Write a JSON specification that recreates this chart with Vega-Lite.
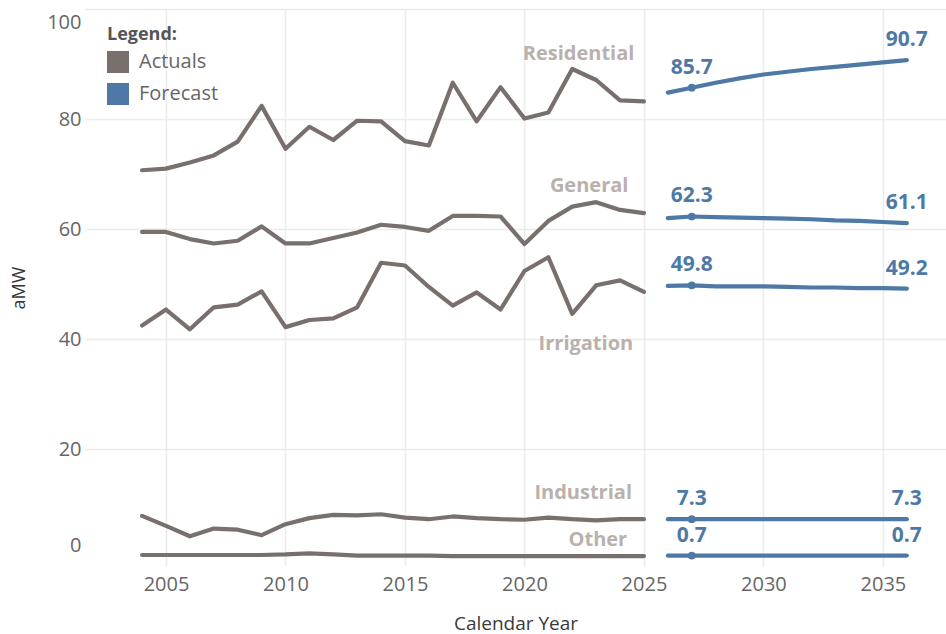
{
  "$schema": "https://vega.github.io/schema/vega-lite/v6.json",
  "autosize": {"type": "none"},
  "width": 861,
  "height": 557,
  "padding": {"left": 85, "top": 9, "right": 0, "bottom": 68},
  "background": "white",
  "config": {
    "view": {"stroke": null},
    "font": "Open Sans",
    "axis": {"labelFont": "Open Sans", "titleFont": "Open Sans"}
  },
  "datasets": {
    "lines": [
      {"series": "Residential", "type": "Actuals", "year": 2004, "value": 70.7},
      {"series": "Residential", "type": "Actuals", "year": 2005, "value": 71.0},
      {"series": "Residential", "type": "Actuals", "year": 2006, "value": 72.1},
      {"series": "Residential", "type": "Actuals", "year": 2007, "value": 73.4},
      {"series": "Residential", "type": "Actuals", "year": 2008, "value": 75.9},
      {"series": "Residential", "type": "Actuals", "year": 2009, "value": 82.4},
      {"series": "Residential", "type": "Actuals", "year": 2010, "value": 74.6},
      {"series": "Residential", "type": "Actuals", "year": 2011, "value": 78.6},
      {"series": "Residential", "type": "Actuals", "year": 2012, "value": 76.2},
      {"series": "Residential", "type": "Actuals", "year": 2013, "value": 79.7},
      {"series": "Residential", "type": "Actuals", "year": 2014, "value": 79.6},
      {"series": "Residential", "type": "Actuals", "year": 2015, "value": 76.0},
      {"series": "Residential", "type": "Actuals", "year": 2016, "value": 75.2},
      {"series": "Residential", "type": "Actuals", "year": 2017, "value": 86.6},
      {"series": "Residential", "type": "Actuals", "year": 2018, "value": 79.6},
      {"series": "Residential", "type": "Actuals", "year": 2019, "value": 85.8},
      {"series": "Residential", "type": "Actuals", "year": 2020, "value": 80.1},
      {"series": "Residential", "type": "Actuals", "year": 2021, "value": 81.2},
      {"series": "Residential", "type": "Actuals", "year": 2022, "value": 89.1},
      {"series": "Residential", "type": "Actuals", "year": 2023, "value": 87.1},
      {"series": "Residential", "type": "Actuals", "year": 2024, "value": 83.4},
      {"series": "Residential", "type": "Actuals", "year": 2025, "value": 83.2},
      {"series": "General", "type": "Actuals", "year": 2004, "value": 59.5},
      {"series": "General", "type": "Actuals", "year": 2005, "value": 59.5},
      {"series": "General", "type": "Actuals", "year": 2006, "value": 58.2},
      {"series": "General", "type": "Actuals", "year": 2007, "value": 57.4},
      {"series": "General", "type": "Actuals", "year": 2008, "value": 57.9},
      {"series": "General", "type": "Actuals", "year": 2009, "value": 60.5},
      {"series": "General", "type": "Actuals", "year": 2010, "value": 57.4},
      {"series": "General", "type": "Actuals", "year": 2011, "value": 57.4},
      {"series": "General", "type": "Actuals", "year": 2012, "value": 58.4},
      {"series": "General", "type": "Actuals", "year": 2013, "value": 59.4},
      {"series": "General", "type": "Actuals", "year": 2014, "value": 60.8},
      {"series": "General", "type": "Actuals", "year": 2015, "value": 60.4},
      {"series": "General", "type": "Actuals", "year": 2016, "value": 59.7},
      {"series": "General", "type": "Actuals", "year": 2017, "value": 62.4},
      {"series": "General", "type": "Actuals", "year": 2018, "value": 62.4},
      {"series": "General", "type": "Actuals", "year": 2019, "value": 62.3},
      {"series": "General", "type": "Actuals", "year": 2020, "value": 57.3},
      {"series": "General", "type": "Actuals", "year": 2021, "value": 61.5},
      {"series": "General", "type": "Actuals", "year": 2022, "value": 64.1},
      {"series": "General", "type": "Actuals", "year": 2023, "value": 64.9},
      {"series": "General", "type": "Actuals", "year": 2024, "value": 63.5},
      {"series": "General", "type": "Actuals", "year": 2025, "value": 62.9},
      {"series": "Irrigation", "type": "Actuals", "year": 2004, "value": 42.5},
      {"series": "Irrigation", "type": "Actuals", "year": 2005, "value": 45.4},
      {"series": "Irrigation", "type": "Actuals", "year": 2006, "value": 41.8},
      {"series": "Irrigation", "type": "Actuals", "year": 2007, "value": 45.8},
      {"series": "Irrigation", "type": "Actuals", "year": 2008, "value": 46.3},
      {"series": "Irrigation", "type": "Actuals", "year": 2009, "value": 48.7},
      {"series": "Irrigation", "type": "Actuals", "year": 2010, "value": 42.2},
      {"series": "Irrigation", "type": "Actuals", "year": 2011, "value": 43.5},
      {"series": "Irrigation", "type": "Actuals", "year": 2012, "value": 43.8},
      {"series": "Irrigation", "type": "Actuals", "year": 2013, "value": 45.8},
      {"series": "Irrigation", "type": "Actuals", "year": 2014, "value": 53.9},
      {"series": "Irrigation", "type": "Actuals", "year": 2015, "value": 53.4},
      {"series": "Irrigation", "type": "Actuals", "year": 2016, "value": 49.5},
      {"series": "Irrigation", "type": "Actuals", "year": 2017, "value": 46.1},
      {"series": "Irrigation", "type": "Actuals", "year": 2018, "value": 48.5},
      {"series": "Irrigation", "type": "Actuals", "year": 2019, "value": 45.4},
      {"series": "Irrigation", "type": "Actuals", "year": 2020, "value": 52.4},
      {"series": "Irrigation", "type": "Actuals", "year": 2021, "value": 54.9},
      {"series": "Irrigation", "type": "Actuals", "year": 2022, "value": 44.6},
      {"series": "Irrigation", "type": "Actuals", "year": 2023, "value": 49.8},
      {"series": "Irrigation", "type": "Actuals", "year": 2024, "value": 50.7},
      {"series": "Irrigation", "type": "Actuals", "year": 2025, "value": 48.6},
      {"series": "Industrial", "type": "Actuals", "year": 2004, "value": 7.9},
      {"series": "Industrial", "type": "Actuals", "year": 2005, "value": 6.1},
      {"series": "Industrial", "type": "Actuals", "year": 2006, "value": 4.2},
      {"series": "Industrial", "type": "Actuals", "year": 2007, "value": 5.6},
      {"series": "Industrial", "type": "Actuals", "year": 2008, "value": 5.4},
      {"series": "Industrial", "type": "Actuals", "year": 2009, "value": 4.4},
      {"series": "Industrial", "type": "Actuals", "year": 2010, "value": 6.4},
      {"series": "Industrial", "type": "Actuals", "year": 2011, "value": 7.5},
      {"series": "Industrial", "type": "Actuals", "year": 2012, "value": 8.1},
      {"series": "Industrial", "type": "Actuals", "year": 2013, "value": 8.0},
      {"series": "Industrial", "type": "Actuals", "year": 2014, "value": 8.2},
      {"series": "Industrial", "type": "Actuals", "year": 2015, "value": 7.6},
      {"series": "Industrial", "type": "Actuals", "year": 2016, "value": 7.3},
      {"series": "Industrial", "type": "Actuals", "year": 2017, "value": 7.8},
      {"series": "Industrial", "type": "Actuals", "year": 2018, "value": 7.5},
      {"series": "Industrial", "type": "Actuals", "year": 2019, "value": 7.3},
      {"series": "Industrial", "type": "Actuals", "year": 2020, "value": 7.2},
      {"series": "Industrial", "type": "Actuals", "year": 2021, "value": 7.6},
      {"series": "Industrial", "type": "Actuals", "year": 2022, "value": 7.3},
      {"series": "Industrial", "type": "Actuals", "year": 2023, "value": 7.1},
      {"series": "Industrial", "type": "Actuals", "year": 2024, "value": 7.3},
      {"series": "Industrial", "type": "Actuals", "year": 2025, "value": 7.3},
      {"series": "Other", "type": "Actuals", "year": 2004, "value": 0.8},
      {"series": "Other", "type": "Actuals", "year": 2005, "value": 0.8},
      {"series": "Other", "type": "Actuals", "year": 2006, "value": 0.8},
      {"series": "Other", "type": "Actuals", "year": 2007, "value": 0.8},
      {"series": "Other", "type": "Actuals", "year": 2008, "value": 0.8},
      {"series": "Other", "type": "Actuals", "year": 2009, "value": 0.8},
      {"series": "Other", "type": "Actuals", "year": 2010, "value": 0.9},
      {"series": "Other", "type": "Actuals", "year": 2011, "value": 1.1},
      {"series": "Other", "type": "Actuals", "year": 2012, "value": 0.9},
      {"series": "Other", "type": "Actuals", "year": 2013, "value": 0.7},
      {"series": "Other", "type": "Actuals", "year": 2014, "value": 0.7},
      {"series": "Other", "type": "Actuals", "year": 2015, "value": 0.7},
      {"series": "Other", "type": "Actuals", "year": 2016, "value": 0.7},
      {"series": "Other", "type": "Actuals", "year": 2017, "value": 0.6},
      {"series": "Other", "type": "Actuals", "year": 2018, "value": 0.6},
      {"series": "Other", "type": "Actuals", "year": 2019, "value": 0.6},
      {"series": "Other", "type": "Actuals", "year": 2020, "value": 0.6},
      {"series": "Other", "type": "Actuals", "year": 2021, "value": 0.6},
      {"series": "Other", "type": "Actuals", "year": 2022, "value": 0.6},
      {"series": "Other", "type": "Actuals", "year": 2023, "value": 0.6},
      {"series": "Other", "type": "Actuals", "year": 2024, "value": 0.6},
      {"series": "Other", "type": "Actuals", "year": 2025, "value": 0.6},
      {"series": "Residential", "type": "Forecast", "year": 2026, "value": 84.8},
      {"series": "Residential", "type": "Forecast", "year": 2027, "value": 85.7},
      {"series": "Residential", "type": "Forecast", "year": 2028, "value": 86.6},
      {"series": "Residential", "type": "Forecast", "year": 2029, "value": 87.4},
      {"series": "Residential", "type": "Forecast", "year": 2030, "value": 88.1},
      {"series": "Residential", "type": "Forecast", "year": 2031, "value": 88.6},
      {"series": "Residential", "type": "Forecast", "year": 2032, "value": 89.1},
      {"series": "Residential", "type": "Forecast", "year": 2033, "value": 89.5},
      {"series": "Residential", "type": "Forecast", "year": 2034, "value": 89.9},
      {"series": "Residential", "type": "Forecast", "year": 2035, "value": 90.3},
      {"series": "Residential", "type": "Forecast", "year": 2036, "value": 90.7},
      {"series": "General", "type": "Forecast", "year": 2026, "value": 62.0},
      {"series": "General", "type": "Forecast", "year": 2027, "value": 62.3},
      {"series": "General", "type": "Forecast", "year": 2028, "value": 62.2},
      {"series": "General", "type": "Forecast", "year": 2029, "value": 62.1},
      {"series": "General", "type": "Forecast", "year": 2030, "value": 62.0},
      {"series": "General", "type": "Forecast", "year": 2031, "value": 61.9},
      {"series": "General", "type": "Forecast", "year": 2032, "value": 61.8},
      {"series": "General", "type": "Forecast", "year": 2033, "value": 61.6},
      {"series": "General", "type": "Forecast", "year": 2034, "value": 61.5},
      {"series": "General", "type": "Forecast", "year": 2035, "value": 61.3},
      {"series": "General", "type": "Forecast", "year": 2036, "value": 61.1},
      {"series": "Irrigation", "type": "Forecast", "year": 2026, "value": 49.7},
      {"series": "Irrigation", "type": "Forecast", "year": 2027, "value": 49.8},
      {"series": "Irrigation", "type": "Forecast", "year": 2028, "value": 49.6},
      {"series": "Irrigation", "type": "Forecast", "year": 2029, "value": 49.6},
      {"series": "Irrigation", "type": "Forecast", "year": 2030, "value": 49.6},
      {"series": "Irrigation", "type": "Forecast", "year": 2031, "value": 49.5},
      {"series": "Irrigation", "type": "Forecast", "year": 2032, "value": 49.4},
      {"series": "Irrigation", "type": "Forecast", "year": 2033, "value": 49.4},
      {"series": "Irrigation", "type": "Forecast", "year": 2034, "value": 49.3},
      {"series": "Irrigation", "type": "Forecast", "year": 2035, "value": 49.3},
      {"series": "Irrigation", "type": "Forecast", "year": 2036, "value": 49.2},
      {"series": "Industrial", "type": "Forecast", "year": 2026, "value": 7.3},
      {"series": "Industrial", "type": "Forecast", "year": 2027, "value": 7.3},
      {"series": "Industrial", "type": "Forecast", "year": 2028, "value": 7.3},
      {"series": "Industrial", "type": "Forecast", "year": 2029, "value": 7.3},
      {"series": "Industrial", "type": "Forecast", "year": 2030, "value": 7.3},
      {"series": "Industrial", "type": "Forecast", "year": 2031, "value": 7.3},
      {"series": "Industrial", "type": "Forecast", "year": 2032, "value": 7.3},
      {"series": "Industrial", "type": "Forecast", "year": 2033, "value": 7.3},
      {"series": "Industrial", "type": "Forecast", "year": 2034, "value": 7.3},
      {"series": "Industrial", "type": "Forecast", "year": 2035, "value": 7.3},
      {"series": "Industrial", "type": "Forecast", "year": 2036, "value": 7.3},
      {"series": "Other", "type": "Forecast", "year": 2026, "value": 0.7},
      {"series": "Other", "type": "Forecast", "year": 2027, "value": 0.7},
      {"series": "Other", "type": "Forecast", "year": 2028, "value": 0.7},
      {"series": "Other", "type": "Forecast", "year": 2029, "value": 0.7},
      {"series": "Other", "type": "Forecast", "year": 2030, "value": 0.7},
      {"series": "Other", "type": "Forecast", "year": 2031, "value": 0.7},
      {"series": "Other", "type": "Forecast", "year": 2032, "value": 0.7},
      {"series": "Other", "type": "Forecast", "year": 2033, "value": 0.7},
      {"series": "Other", "type": "Forecast", "year": 2034, "value": 0.7},
      {"series": "Other", "type": "Forecast", "year": 2035, "value": 0.7},
      {"series": "Other", "type": "Forecast", "year": 2036, "value": 0.7}
    ],
    "names": [
      {"series": "Residential", "year": 2024.6, "value": 91.9},
      {"series": "General", "year": 2024.35, "value": 67.9},
      {"series": "Irrigation", "year": 2024.55, "value": 39.2},
      {"series": "Industrial", "year": 2024.5, "value": 12.1},
      {"series": "Other", "year": 2024.3, "value": 3.6}
    ]
  },
  "layer": [
    {
      "data": {"name": "lines"},
      "mark": {"type": "line", "strokeWidth": 4.2, "strokeCap": "round", "strokeJoin": "round"},
      "encoding": {
        "x": {
          "field": "year", "type": "quantitative",
          "scale": {"domain": [2001.61, 2037.64], "nice": false, "zero": false},
          "axis": {
            "values": [2005, 2010, 2015, 2020, 2025, 2030, 2035],
            "format": "d",
            "title": "Calendar Year",
            "titleFontSize": 19,
            "titleFontWeight": "normal",
            "titleColor": "#3a3a3a",
            "titlePadding": 20,
            "labelFontSize": 20,
            "labelColor": "#666666",
            "labelPadding": 8,
            "ticks": false,
            "domain": false,
            "grid": true,
            "gridColor": "#ececec",
            "gridWidth": 1.5
          }
        },
        "y": {
          "field": "value", "type": "quantitative",
          "scale": {"domain": [-1.2, 100], "nice": false, "zero": false},
          "axis": {
            "values": [0, 20, 40, 60, 80, 100],
            "title": "aMW",
            "titleFontSize": 18,
            "titleFontWeight": "normal",
            "titleColor": "#333333",
            "titleX": -57,
            "labelFontSize": 20,
            "labelColor": "#666666",
            "labelPadding": 4,
            "labelOffset": {"condition": [{"test": "datum.value === 100", "value": 13}, {"test": "datum.value === 0", "value": -14}], "value": 0},
            "ticks": false,
            "domain": false,
            "grid": true,
            "gridColor": {"condition": {"test": "datum.value === 0", "value": "transparent"}, "value": "#ececec"},
            "gridWidth": 1.5
          }
        },
        "color": {
          "field": "type", "type": "nominal",
          "scale": {"domain": ["Actuals", "Forecast"], "range": ["#79706e", "#4e79a7"]},
          "legend": {
            "orient": "none",
            "legendX": 22,
            "legendY": 17,
            "title": "Legend:",
            "titleFont": "Open Sans",
            "titleFontSize": 18,
            "titleFontWeight": "bold",
            "titleColor": "#555555",
            "titlePadding": 7,
            "labelFont": "Open Sans",
            "labelFontSize": 20,
            "labelColor": "#666666",
            "labelOffset": 10,
            "symbolType": "square",
            "symbolSize": 484,
            "symbolStrokeWidth": 0,
            "rowPadding": 10,
            "padding": 0,
            "encode": {"symbols": {"update": {"fill": {"scale": "color", "field": "value"}, "stroke": {"value": "transparent"}, "opacity": {"value": 1}}}}
          }
        },
        "detail": {"field": "series", "type": "nominal"}
      }
    },
    {
      "data": {"name": "lines"},
      "transform": [{"filter": "datum.type === 'Forecast' && datum.year === 2027"}],
      "mark": {"type": "point", "filled": true, "opacity": 1, "size": 60, "color": "#4e79a7"},
      "encoding": {
        "x": {"field": "year", "type": "quantitative"},
        "y": {"field": "value", "type": "quantitative"}
      }
    },
    {
      "data": {"name": "lines"},
      "transform": [{"filter": "datum.type === 'Forecast' && (datum.year === 2027 || datum.year === 2036)"}],
      "mark": {"type": "text", "font": "Open Sans", "fontSize": 21, "fontWeight": "bold", "color": "#4e79a7", "baseline": "middle", "align": "center", "dy": -20},
      "encoding": {
        "x": {"field": "year", "type": "quantitative"},
        "y": {"field": "value", "type": "quantitative"},
        "text": {"field": "value", "type": "quantitative", "format": ".1f"}
      }
    },
    {
      "data": {"name": "names"},
      "mark": {"type": "text", "font": "Open Sans", "fontSize": 20, "fontWeight": "bold", "color": "#bab0ac", "baseline": "middle", "align": "right"},
      "encoding": {
        "x": {"field": "year", "type": "quantitative"},
        "y": {"field": "value", "type": "quantitative"},
        "text": {"field": "series", "type": "nominal"}
      }
    }
  ]
}
